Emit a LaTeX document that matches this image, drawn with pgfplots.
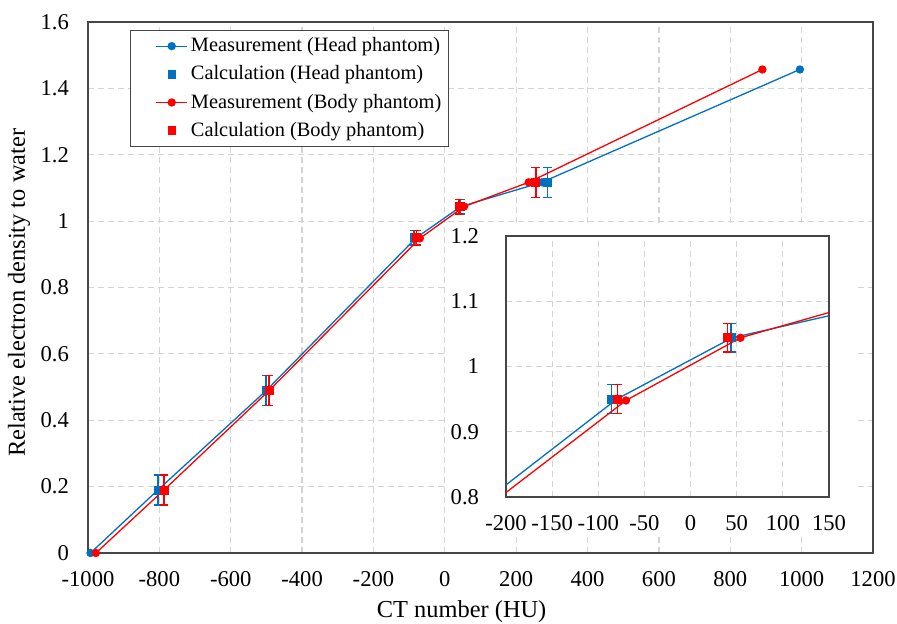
\documentclass[border=0pt]{standalone}
\usepackage{fontspec}
\setmainfont{Liberation Serif}
\usepackage{pgfplots}
\pgfplotsset{compat=1.18}
\usepackage{pgfplotstable}

\definecolor{headblue}{RGB}{0,112,192}
\definecolor{bodyred}{RGB}{255,0,0}
\definecolor{gridgray}{RGB}{212,212,212}
\definecolor{framegray}{RGB}{70,70,70}

% Measured relative electron density (head phantom)
\pgfplotstableread{
x     y
-993  0.000
-804  0.190
-501  0.489
-80   0.950
45    1.044
272   1.117
995   1.457
}\headmeas

% Calculated values (head phantom) with uncertainty
\pgfplotstableread{
x     y      e
-804  0.190  0.045
-501  0.489  0.045
-86   0.950  0.022
44    1.044  0.022
288   1.117  0.045
}\headcalc

% Measured relative electron density (body phantom)
\pgfplotstableread{
x     y
-978  0.000
-787  0.190
-493  0.489
-70   0.948
54    1.044
235   1.117
890   1.457
}\bodymeas

% Calculated values (body phantom) with uncertainty
\pgfplotstableread{
x     y      e
-787  0.190  0.045
-493  0.489  0.045
-79   0.950  0.022
40    1.044  0.022
255   1.117  0.045
}\bodycalc

\pgfplotsset{
  ctframe/.style={
    scale only axis,
    axis line style={framegray, line width=0.65pt},
    major tick length=0pt,
    grid=major,
    major grid style={gridgray, line width=0.6pt, dash pattern=on 3pt off 2pt},
    /pgf/number format/assume math mode=true,
    /pgf/number format/1000 sep={},
    tick label style={font=\fontsize{11.3}{13}\selectfont},
    yticklabel style={xshift=-6pt},
    xticklabel style={yshift=-5.5pt},
  },
  meas/.style={color=#1, line width=0.65pt, mark=*, mark size=1.75pt, mark options={solid, fill=#1}},
  calc/.style={color=#1, only marks, mark=square*, mark size=2pt, mark options={fill=#1},
    error bars/y dir=both, error bars/y explicit,
    error bars/error bar style={color=#1, solid, line width=0.7pt},
    error bars/error mark=-,
    error bars/error mark options={color=#1, solid, line width=0.7pt, mark size=2.2pt, rotate=90}},
}

\begin{document}
\begin{tikzpicture}
\path[use as bounding box] (-44pt,-35pt) rectangle (404.5pt,276.5pt);

\begin{axis}[
  ctframe,
  width=392.5pt, height=265.5pt,
  xmin=-1000, xmax=1200, ymin=0, ymax=1.6,
  xtick={-1000,-800,-600,-400,-200,0,200,400,600,800,1000,1200},
  ytick={0,0.2,0.4,0.6,0.8,1,1.2,1.4,1.6},
  yticklabels={0,0.2,0.4,0.6,0.8,1,1.2,1.4,1.6},
  xlabel={CT number (HU)},
  ylabel={Relative electron density to water},
  label style={font=\fontsize{12.2}{14}\selectfont},
  xlabel style={at={(axis description cs:0.476,-0.111)}, anchor=center},
  ylabel style={at={(axis description cs:-0.088,0.49)}, anchor=center},
  legend style={
    at={(rel axis cs:0.0535,0.985)}, anchor=north west,
    draw=framegray, line width=0.6pt,
    font=\fontsize{10.2}{12}\selectfont,
    inner xsep=2pt, inner ysep=2.5pt,
    row sep=3.5pt,
    nodes={inner ysep=1pt, inner xsep=1.5pt},
    cells={anchor=west},
  },
]
\addplot[meas=headblue,
  legend image code/.code={\path (0pt,0pt) (26pt,0pt);
    \draw[mark repeat=2, mark phase=2] plot coordinates {(10.5pt,0pt) (18.25pt,0pt) (26pt,0pt)};}]
  table[x=x, y=y] {\headmeas};
\addlegendentry{Measurement (Head phantom)}

\addplot[calc=headblue,
  legend image code/.code={\path (0pt,0pt) (26pt,0pt);
    \draw[mark=square*, mark size=1.8pt] plot coordinates {(18.25pt,0pt)};}]
  table[x=x, y=y, y error=e] {\headcalc};
\addlegendentry{Calculation (Head phantom)}

\addplot[meas=bodyred,
  legend image code/.code={\path (0pt,0pt) (26pt,0pt);
    \draw[mark repeat=2, mark phase=2] plot coordinates {(10.5pt,0pt) (18.25pt,0pt) (26pt,0pt)};}]
  table[x=x, y=y] {\bodymeas};
\addlegendentry{Measurement (Body phantom)}

\addplot[calc=bodyred,
  legend image code/.code={\path (0pt,0pt) (26pt,0pt);
    \draw[mark=square*, mark size=1.8pt] plot coordinates {(18.25pt,0pt)};}]
  table[x=x, y=y, y error=e] {\bodycalc};
\addlegendentry{Calculation (Body phantom)}
\end{axis}

% white backing of the zoomed view
\fill[white] (179.5pt,9pt) rectangle (383.5pt,164pt);

\begin{axis}[
  ctframe,
  at={(209pt,28pt)}, anchor=south west,
  width=161.5pt, height=130.5pt,
  xmin=-200, xmax=150, ymin=0.8, ymax=1.2,
  xtick={-200,-150,-100,-50,0,50,100,150},
  ytick={0.8,0.9,1,1.1,1.2},
  yticklabels={0.8,0.9,1,1.1,1.2},
  yticklabel style={xshift=-4pt},
  xticklabel style={yshift=0pt},
]
\addplot[meas=headblue] table[x=x, y=y] {\headmeas};
\addplot[calc=headblue] table[x=x, y=y, y error=e] {\headcalc};
\addplot[meas=bodyred] table[x=x, y=y] {\bodymeas};
\addplot[calc=bodyred] table[x=x, y=y, y error=e] {\bodycalc};
\end{axis}
\end{tikzpicture}
\end{document}
